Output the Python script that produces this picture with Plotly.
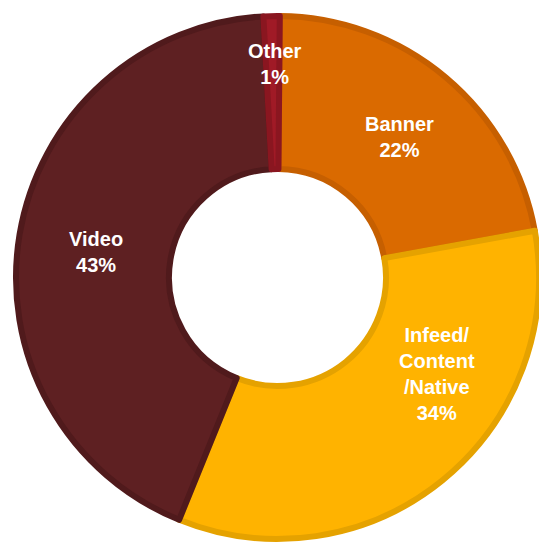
import plotly.graph_objects as go

# Ad spend share by format
formats = ["Banner", "Infeed/<br>Content<br>/Native", "Video", "Other"]
shares = [22, 34, 43, 1]

fill_colors = ["#DA6A00", "#FFB300", "#5E2022", "#A01A26"]
edge_colors = ["#C65F00", "#E5A200", "#501A1C", "#8A1620"]

W, H = 539, 547

fig = go.Figure(
    go.Pie(
        labels=formats,
        values=shares,
        sort=False,
        direction="clockwise",
        rotation=0.5,
        hole=0.415,
        textinfo="none",
        hoverinfo="label+percent",
        marker=dict(colors=fill_colors, line=dict(color=edge_colors, width=6)),
        domain=dict(x=[16 / W, 1.0], y=[1 - 539 / H, 1 - 16 / H]),
        showlegend=False,
    )
)

# Label anchor points (figure fraction) for each slice's caption
label_x = [399 / W, 437 / W, 96 / W, 275 / W]
label_y = [1 - 137 / H, 1 - 374 / H, 1 - 252 / H, 1 - 64 / H]

for name, val, x, y in zip(formats, shares, label_x, label_y):
    fig.add_annotation(
        x=x, y=y, xref="paper", yref="paper",
        xanchor="center", yanchor="middle",
        text=f"<b>{name}<br>{val}%</b>",
        showarrow=False,
        font=dict(family="Liberation Sans, Arial, sans-serif", size=20, color="white"),
        align="center",
    )

fig.update_layout(
    width=W, height=H,
    margin=dict(l=0, r=0, t=0, b=0),
    paper_bgcolor="white",
    plot_bgcolor="white",
)

fig.write_html("out.html")
